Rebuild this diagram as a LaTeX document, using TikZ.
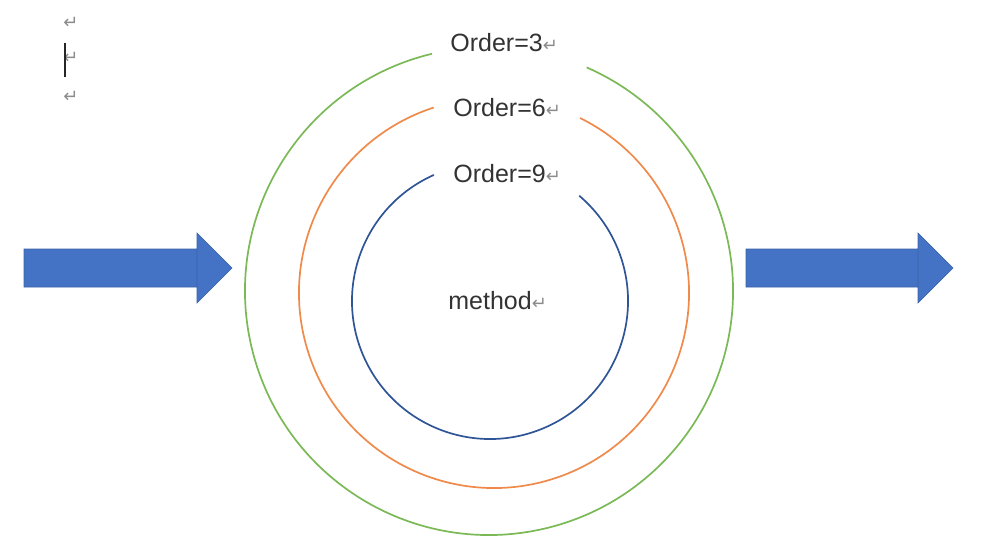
\documentclass[tikz,border=0pt]{standalone}
\usepackage{fontspec}
\setmainfont{Liberation Sans}
\newfontfamily\symfont{DejaVu Sans}
\definecolor{ringgreen}{HTML}{7BB956}
\definecolor{ringorange}{HTML}{EF8A4A}
\definecolor{ringblue}{HTML}{2F5597}
\definecolor{arrowblue}{HTML}{4472C4}
\definecolor{markgray}{HTML}{8C8C8C}
\newcommand\parmark{{\color{markgray}\symfont\fontsize{9}{9}\selectfont ↵}}
\tikzset{
  lbl/.style={inner sep=0pt, anchor=base west, text=black!80, font=\fontsize{12.5}{15}\selectfont},
  ring/.style={line width=0.85pt},
  blockarrow/.style={fill=arrowblue, draw=arrowblue!85!black, line width=0.3pt}
}
\begin{document}
\begin{tikzpicture}[x=0.5pt, y=0.5pt]
      \useasboundingbox (0,0) rectangle (994,558);
      % paragraph marks
      \node[inner sep=0pt] (m1) at (71,535) {\parmark};
      \node[inner sep=0pt] (m2) at (71,500) {\parmark};
      \node[inner sep=0pt] (m3) at (71,461) {\parmark};
      \draw[line width=0.8pt, black!85] (65,515) -- (65,481);
      % rings
      \coordinate (cg) at (489,267);
      \coordinate (co) at (494,265);
      \coordinate (cb) at (490,257);
      \draw[ring, ringgreen] (cg) ++(103.5:244) arc[start angle=103.5, end angle=426.4, radius=244];
      \draw[ring, ringorange] (co) ++(108:195) arc[start angle=108, end angle=423.8, radius=195];
      \draw[ring, ringblue] (cb) ++(114:138) arc[start angle=114, end angle=409.7, radius=138];
      % labels
      \node[lbl] (o3) at (450,506) {Order=3\parmark};
      \node[lbl] (o6) at (453,441) {Order=6\parmark};
      \node[lbl] (o9) at (453,376) {Order=9\parmark};
      \node[lbl] (meth) at (448,249) {method\parmark};
      % arrows
      \draw[blockarrow] (24,271) -- (197,271) -- (197,325) -- (232,290)
        -- (197,255) -- (197,309) -- (24,309) -- cycle;
      \draw[blockarrow] (746,271) -- (918,271) -- (918,325) -- (953,290)
        -- (918,255) -- (918,309) -- (746,309) -- cycle;
    \end{tikzpicture}
\end{document}
